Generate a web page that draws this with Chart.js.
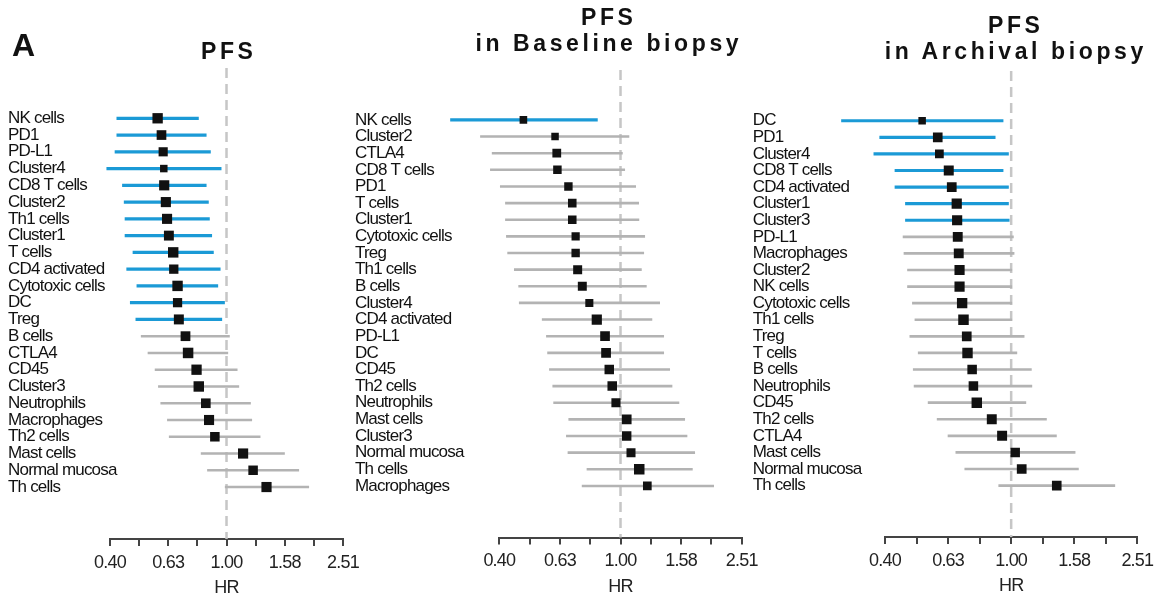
<!DOCTYPE html>
<html>
<head>
<meta charset="utf-8">
<script src="https://cdn.jsdelivr.net/npm/chart.js@4.4.1/dist/chart.umd.min.js"></script>
<style>
  html, body { margin: 0; padding: 0; background: #fff; }
  #wrap { position: relative; width: 1164px; height: 606px; overflow: hidden; }
  canvas { position: absolute; left: 0; top: 0; }
  .ttl {
    position: absolute; transform: translateX(-50%);
    font-family: "Liberation Sans", Arial, sans-serif; font-weight: bold;
    font-size: 23px; line-height: 26px; letter-spacing: 3.6px; padding-left: 3.6px;
    text-align: center; white-space: nowrap; color: #111;
  }
  #lbl { position: absolute; left: 12px; top: 29px; font: bold 32px/32px "Liberation Sans", Arial, sans-serif; color: #111; }
</style>
</head>
<body>
<div id="wrap">
  <canvas id="c1" width="1164" height="606"></canvas>
  <canvas id="c2" width="1164" height="606"></canvas>
  <canvas id="c3" width="1164" height="606"></canvas>
  <div id="lbl">A</div>
  <div class="ttl" style="left:227px; top:38px;">PFS</div>
  <div class="ttl" style="left:607px; top:4px;">PFS<br>in Baseline biopsy</div>
  <div class="ttl" style="left:1014px; top:12px;">PFS<br>in Archival biopsy</div>
</div>
<script>
// x axis ticks (log scale, HR)
const hrTicks = [0.398, 0.501, 0.631, 0.794, 1.0, 1.259, 1.585, 1.995, 2.512];
const hrTickLabels = ['0.40', '', '0.63', '', '1.00', '', '1.58', '', '2.51'];

// PFS
const pfsCells = ['NK cells', 'PD1', 'PD-L1', 'Cluster4', 'CD8 T cells', 'Cluster2', 'Th1 cells', 'Cluster1',
  'T cells', 'CD4 activated', 'Cytotoxic cells', 'DC', 'Treg', 'B cells', 'CTLA4', 'CD45', 'Cluster3',
  'Neutrophils', 'Macrophages', 'Th2 cells', 'Mast cells', 'Normal mucosa', 'Th cells'];
const pfsHR = [0.580, 0.598, 0.606, 0.609, 0.611, 0.619, 0.625, 0.634, 0.656, 0.659, 0.679, 0.679,
  0.686, 0.723, 0.738, 0.789, 0.803, 0.849, 0.871, 0.912, 1.140, 1.234, 1.372];
const pfsLow = [0.419, 0.419, 0.413, 0.387, 0.438, 0.444, 0.447, 0.447, 0.476, 0.453, 0.491, 0.466,
  0.487, 0.508, 0.536, 0.567, 0.582, 0.593, 0.625, 0.634, 0.816, 0.858, 0.987];
const pfsHigh = [0.803, 0.854, 0.883, 0.961, 0.854, 0.869, 0.876, 0.892, 0.904, 0.954, 0.936, 0.987,
  0.966, 1.026, 1.013, 1.091, 1.105, 1.212, 1.224, 1.308, 1.586, 1.775, 1.921];

// PFS in Baseline biopsy
const baseCells = ['NK cells', 'Cluster2', 'CTLA4', 'CD8 T cells', 'PD1', 'T cells', 'Cluster1',
  'Cytotoxic cells', 'Treg', 'Th1 cells', 'B cells', 'Cluster4', 'CD4 activated', 'PD-L1', 'DC', 'CD45',
  'Th2 cells', 'Neutrophils', 'Mast cells', 'Cluster3', 'Normal mucosa', 'Th cells', 'Macrophages'];
const baseHR = [0.478, 0.608, 0.616, 0.619, 0.673, 0.693, 0.693, 0.711, 0.711, 0.722, 0.748, 0.789,
  0.835, 0.889, 0.896, 0.918, 0.939, 0.966, 1.048, 1.048, 1.083, 1.153, 1.226];
const baseLow = [0.274, 0.344, 0.376, 0.371, 0.400, 0.416, 0.416, 0.419, 0.423, 0.445, 0.460, 0.462,
  0.550, 0.568, 0.573, 0.581, 0.596, 0.600, 0.673, 0.661, 0.669, 0.773, 0.745];
const baseHigh = [0.841, 1.069, 1.017, 1.035, 1.125, 1.151, 1.153, 1.205, 1.196, 1.175, 1.220, 1.350,
  1.273, 1.392, 1.392, 1.457, 1.483, 1.563, 1.633, 1.662, 1.762, 1.731, 2.035];

// PFS in Archival biopsy
const archCells = ['DC', 'PD1', 'Cluster4', 'CD8 T cells', 'CD4 activated', 'Cluster1', 'Cluster3', 'PD-L1',
  'Macrophages', 'Cluster2', 'NK cells', 'Cytotoxic cells', 'Th1 cells', 'Treg', 'T cells', 'B cells',
  'Neutrophils', 'CD45', 'Th2 cells', 'CTLA4', 'Mast cells', 'Normal mucosa', 'Th cells'];
const archHR = [0.522, 0.585, 0.592, 0.634, 0.648, 0.672, 0.674, 0.677, 0.682, 0.686, 0.686, 0.699,
  0.706, 0.723, 0.727, 0.752, 0.759, 0.778, 0.868, 0.936, 1.030, 1.080, 1.395];
const archLow = [0.289, 0.382, 0.366, 0.427, 0.427, 0.461, 0.461, 0.453, 0.456, 0.468, 0.468, 0.485,
  0.494, 0.476, 0.506, 0.488, 0.491, 0.544, 0.581, 0.629, 0.666, 0.711, 0.911];
const archHigh = [0.945, 0.892, 0.983, 0.945, 0.983, 0.983, 0.988, 1.019, 1.024, 1.007, 1.007, 1.007,
  1.007, 1.102, 1.045, 1.162, 1.166, 1.116, 1.297, 1.395, 1.599, 1.638, 2.137];

const W = 1164, H = 606, AXIS_H = 60;
const Y_MIN = -3, Y_MAX = 25.1;
const BLUE = '#1b9ad6', GRAY = '#b3b3b3';
const SANS = '"Liberation Sans", Arial, sans-serif';

const panels = [
  { id: 'c1', cats: pfsCells, hr: pfsHR, lo: pfsLow, hi: pfsHigh, labelX: 8, left: 110, right: 343, top: 68, bottom: 539 },
  { id: 'c2', cats: baseCells, hr: baseHR, lo: baseLow, hi: baseHigh, labelX: 355, left: 499.3, right: 741.7, top: 70, bottom: 537.5 },
  { id: 'c3', cats: archCells, hr: archHR, lo: archLow, hi: archHigh, labelX: 752.7, left: 885, right: 1137.3, top: 71, bottom: 537 }
];

// axis text in the figure is condensed; tighten it a bit (scales are drawn before the datasets)
const tightText = {
  id: 'tightText',
  beforeDraw: function (chart) { chart.ctx.letterSpacing = '-0.8px'; },
  beforeDatasetsDraw: function (chart) { chart.ctx.letterSpacing = '0px'; }
};

function ciLines(p, keep) {
  var pts = [];
  p.cats.forEach(function (c, i) {
    if (keep(p.hi[i])) pts.push({ x: p.lo[i], y: i }, { x: p.hi[i], y: i }, { x: null, y: null });
  });
  return pts;
}

panels.forEach(function (p) {
  // box size: narrower CI -> bigger box (relative within the panel)
  var widths = p.cats.map(function (c, i) { return Math.log10(p.hi[i] / p.lo[i]); });
  var wMin = Math.min.apply(null, widths), wMax = Math.max.apply(null, widths);
  var radius = widths.map(function (w) {
    return (7.5 + 3 * (wMax - w) / (wMax - wMin)) * Math.SQRT1_2;
  });

  new Chart(document.getElementById(p.id), {
    type: 'scatter',
    data: {
      datasets: [
        { data: p.hr.map(function (v, i) { return { x: v, y: i }; }), pointStyle: 'rect', pointRadius: radius,
          backgroundColor: '#111', borderWidth: 0, order: 0 },
        { data: ciLines(p, function (h) { return h < 1; }), showLine: true, borderColor: BLUE, borderWidth: 3.2,
          pointRadius: 0, clip: false, order: 1 },
        { data: ciLines(p, function (h) { return h >= 1; }), showLine: true, borderColor: GRAY, borderWidth: 2.6,
          pointRadius: 0, clip: false, order: 1 },
        { data: [{ x: 1, y: Y_MIN }, { x: 1, y: Y_MAX }], showLine: true, borderColor: '#c6c6c6', borderWidth: 2.5,
          borderDash: [10, 6], pointRadius: 0, clip: false, order: 2 }
      ]
    },
    options: {
      responsive: false,
      animation: false,
      events: [],
      layout: { padding: { left: p.left, right: W - p.right, top: p.top, bottom: H - p.bottom - AXIS_H } },
      plugins: { legend: { display: false }, tooltip: { enabled: false } },
      scales: {
        x: {
          type: 'logarithmic', position: 'bottom',
          min: hrTicks[0], max: hrTicks[hrTicks.length - 1],
          afterBuildTicks: function (s) { s.ticks = hrTicks.map(function (v) { return { value: v }; }); },
          afterFit: function (s) { s.height = AXIS_H; },
          ticks: {
            callback: function (v, i) { return hrTickLabels[i]; },
            font: { family: SANS, size: 18 }, color: '#222', padding: 6, maxRotation: 0, autoSkip: false
          },
          grid: { drawOnChartArea: false, drawTicks: true, tickLength: 7, color: '#444', lineWidth: 2 },
          border: { display: true, color: '#444', width: 2 },
          title: { display: true, text: 'HR', font: { family: SANS, size: 18 }, color: '#222', padding: { top: 0, bottom: 0 } }
        },
        y: {
          type: 'linear', reverse: true, min: Y_MIN, max: Y_MAX, bounds: 'data',
          afterBuildTicks: function (s) { s.ticks = p.cats.map(function (c, i) { return { value: i }; }); },
          afterFit: function (s) { s.width = 0; },
          ticks: {
            callback: function (v) { return p.cats[v]; },
            mirror: true, crossAlign: 'near', padding: p.labelX - p.left,
            font: { family: SANS, size: 17 }, color: '#111', autoSkip: false
          },
          grid: { display: false },
          border: { display: false }
        }
      }
    },
    plugins: [tightText]
  });
});
</script>
</body>
</html>
